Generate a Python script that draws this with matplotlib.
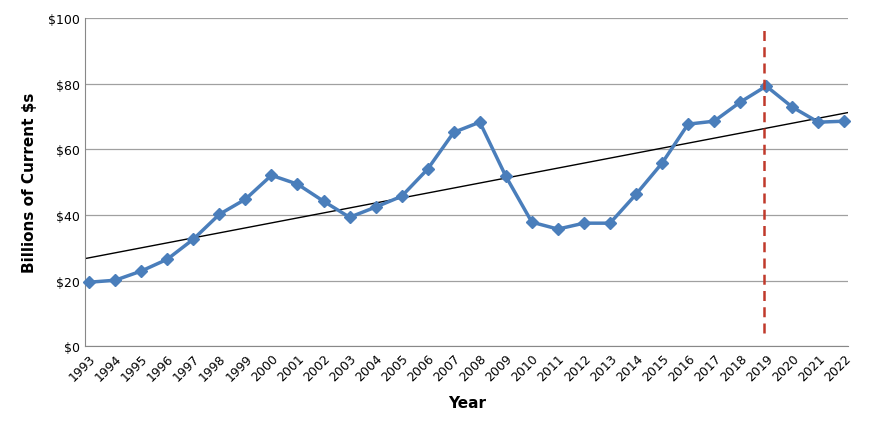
import matplotlib
matplotlib.use("Agg")
import matplotlib.pyplot as plt
import numpy as np

years = list(range(1993, 2023))
values = [19.5, 20.1, 22.9, 26.5, 32.6, 40.2, 44.8, 52.1, 49.4, 44.2, 39.3, 42.4, 45.7, 54.0,
          65.2, 68.3, 51.8, 37.8, 35.7, 37.5, 37.5, 46.3, 55.8, 67.7, 68.6, 74.4, 79.3, 72.9, 68.3, 68.6]
yticks = [0, 20, 40, 60, 80, 100]

fig = plt.figure(figsize=(8.7, 4.27), dpi=100)
ax = fig.add_axes([0.098, 0.187, 0.877, 0.768])
x = np.arange(len(years))
ax.plot(x, values, color="#4a7ebb", lw=2.5, marker="D", ms=6, mfc="#4a7ebb", mec="#4a7ebb", zorder=3, clip_on=False)
x0, x1 = -0.15, len(years) - 0.85
c = np.polyfit(x, values, 1)
ax.plot([x0, x1], np.polyval(c, [x0, x1]), color="black", lw=1, zorder=2)
ax.plot([25.9, 25.9], [4, 97], color="#c0392b", lw=1.8, ls=(0, (4, 2.5)), zorder=4)

ax.set_xlim(x0, x1)
ax.set_ylim(0, 100)
ax.set_yticks(yticks)
ax.set_yticklabels([f"${v}" for v in yticks], fontsize=9)
ax.set_xticks(x)
ax.set_xticklabels([str(y) for y in years], rotation=45, ha="right", rotation_mode="anchor", fontsize=9)
ax.yaxis.grid(True, color="#a0a0a0", lw=0.9)
ax.set_axisbelow(True)
for s in ["top", "right"]:
    ax.spines[s].set_visible(False)
ax.spines["left"].set_color("#888888")
ax.spines["bottom"].set_color("#888888")
ax.tick_params(length=0, pad=4)
ax.set_xlabel("Year", fontsize=11, fontweight="bold", labelpad=8)
ax.set_ylabel("Billions of Current $s", fontsize=11, fontweight="bold", labelpad=8)
fig.savefig("out.png", dpi=100)
